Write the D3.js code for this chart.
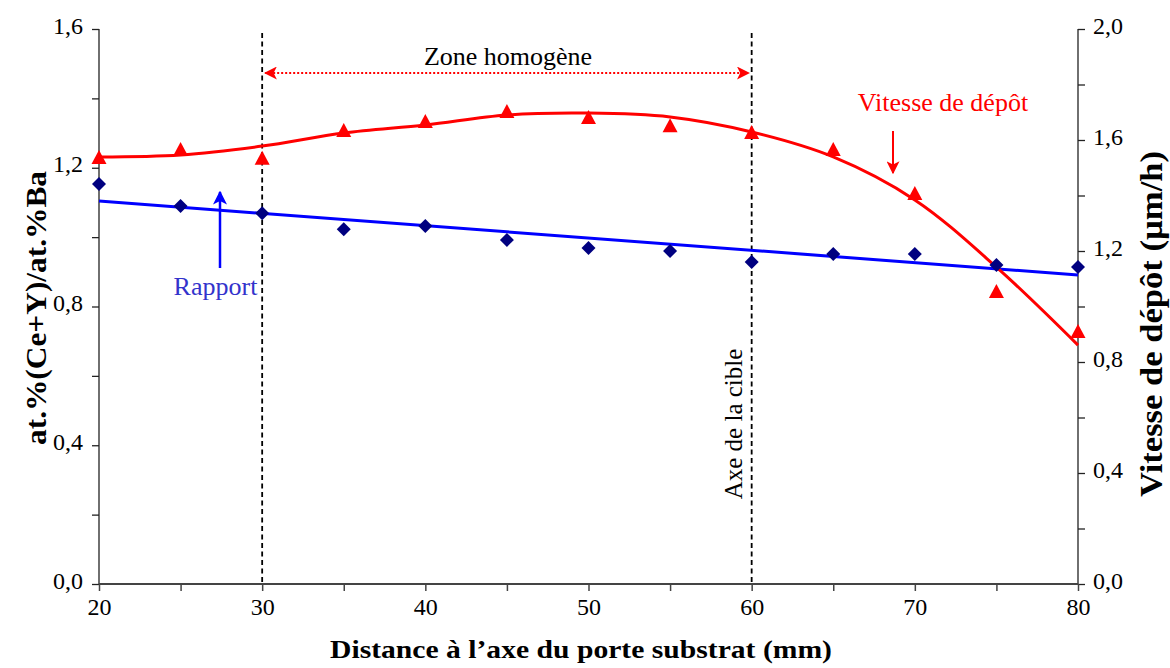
<!DOCTYPE html>
<html><head><meta charset="utf-8">
<script src="https://cdn.jsdelivr.net/npm/d3@7"></script>
<style>
body{margin:0;background:#fff}
svg text{font-family:"Liberation Serif","Times New Roman",serif}
</style></head>
<body><svg id="c" width="1170" height="668"></svg>
<script>
// ---- data ----
const distances = [20,25,30,35,40,45,50,55,60,65,70,75,80];
const rapport = [1.153,1.090,1.069,1.023,1.032,0.992,0.969,0.960,0.928,0.951,0.951,0.920,0.914];
const rapportFit = [[20,1.104],[80,0.891]];
const vitesse = [1.535,1.564,1.532,1.632,1.665,1.701,1.679,1.650,1.625,1.564,1.405,1.052,0.908];
const vitesseFit = [1.539,1.546,1.578,1.625,1.654,1.690,1.697,1.683,1.629,1.539,1.384,1.142,0.861];
const xTicks = [20,25,30,35,40,45,50,55,60,65,70,75,80];
const xTickLabels = [20,30,40,50,60,70,80];
const leftTicks = [0,0.2,0.4,0.6,0.8,1.0,1.2,1.4,1.6];
const leftTickLabels = [0,0.4,0.8,1.2,1.6];
const rightTicks = [0,0.2,0.4,0.6,0.8,1.0,1.2,1.4,1.6,1.8,2.0];
const rightTickLabels = [0,0.4,0.8,1.2,1.6,2.0];
const zoneBounds = [30,60];

const svg = d3.select("#c");
const L=99, R=1078, T=29, B=584;
const x = d3.scaleLinear().domain([20,80]).range([L,R]);
const yL = d3.scaleLinear().domain([0,1.6]).range([B,T]);
const yR = d3.scaleLinear().domain([0,2.0]).range([B,T]);
const fmt = d => d3.format(".1f")(d).replace(".",",");
const FF = "Liberation Serif";

// axes
const axL = d3.axisLeft(yL).tickValues(leftTicks).tickSize(7).tickFormat(d => leftTickLabels.some(v=>Math.abs(v-d)<1e-9)?fmt(d):"");
const gL = svg.append("g").attr("transform",`translate(${L},0)`).call(axL);
const axR = d3.axisRight(yR).tickValues(rightTicks).tickSize(7).tickFormat(d => rightTickLabels.some(v=>Math.abs(v-d)<1e-9)?fmt(d):"");
const gR = svg.append("g").attr("transform",`translate(${R},0)`).call(axR);
const axX = d3.axisBottom(x).tickValues(xTicks).tickSize(7).tickFormat(d => xTickLabels.includes(d)?d:"");
const gX = svg.append("g").attr("transform",`translate(0,${B})`).call(axX);
[gL,gR].forEach(g=>{g.select(".domain").attr("stroke","#222").attr("stroke-width",1.3);
  g.selectAll(".tick line").attr("stroke","#222").attr("stroke-width",1.3);
  g.selectAll("text").attr("font-size",24).attr("fill","#000").attr("y",-3.5).style("font-family",FF);});
gL.selectAll("text").attr("x",-16);
gR.selectAll("text").attr("x",15);
gX.select(".domain").attr("stroke","#444").attr("stroke-width",2.2);
gX.selectAll(".tick line").attr("stroke","#444").attr("stroke-width",1.5);
gX.selectAll("text").attr("font-size",24).attr("fill","#000").attr("y",14).style("font-family",FF);
gL.select(".domain").attr("d",`M0,${T}V${B}`);
gR.select(".domain").attr("d",`M0,${T}V${B}`);
gX.select(".domain").attr("d",`M${L},0H${R}`);

// vertical dashed lines
svg.selectAll(".vline").data(zoneBounds).join("line")
  .attr("x1",d=>x(d)).attr("x2",d=>x(d)).attr("y1",33).attr("y2",B)
  .attr("stroke","#000").attr("stroke-width",1.8).attr("stroke-dasharray","5,3.5");

// defs arrows
const defs = svg.append("defs");
function marker(id,color,w,h){
  defs.append("marker").attr("id",id).attr("viewBox","0 0 10 10").attr("refX",9).attr("refY",5)
   .attr("markerWidth",w).attr("markerHeight",h).attr("markerUnits","userSpaceOnUse").attr("orient","auto-start-reverse")
   .append("path").attr("d","M0,0L10,5L0,10L2.5,5Z").attr("fill",color);
}
marker("ar","#ff0000",13,13);
marker("ab","#0000ff",14,14);

// zone homogene double arrow
svg.append("line").attr("x1",x(zoneBounds[0])+3).attr("x2",x(zoneBounds[1])-3).attr("y1",73).attr("y2",73)
  .attr("stroke","#ff0000").attr("stroke-width",2).attr("stroke-dasharray","2,2")
  .attr("marker-start","url(#ar)").attr("marker-end","url(#ar)");
svg.append("text").attr("x",508).attr("y",65).attr("text-anchor","middle")
  .attr("font-size",26).text("Zone homogène");

// axe de la cible
svg.append("text").attr("transform",`translate(742,424) rotate(-90)`).attr("text-anchor","middle")
  .attr("font-size",25).text("Axe de la cible");

// blue fit line
svg.append("path").datum(rapportFit).attr("fill","none").attr("stroke","#0000ff").attr("stroke-width",3)
  .attr("d",d3.line().x(d=>x(d[0])).y(d=>yL(d[1])));
// red fit curve
svg.append("path").datum(distances.map((d,i)=>[d,vitesseFit[i]])).attr("fill","none").attr("stroke","#ff0000").attr("stroke-width",3)
  .attr("d",d3.line().x(d=>x(d[0])).y(d=>yR(d[1])).curve(d3.curveCatmullRom));

// diamonds
svg.selectAll(".dia").data(distances).join("path")
  .attr("transform",(d,i)=>`translate(${x(d)},${yL(rapport[i])})`)
  .attr("d","M0,-7L7,0L0,7L-7,0Z").attr("fill","#000080");
// triangles
svg.selectAll(".tri").data(distances).join("path")
  .attr("transform",(d,i)=>`translate(${x(d)},${yR(vitesse[i])})`)
  .attr("d","M0,-8L7.5,6L-7.5,6Z").attr("fill","#ff0000");

// annotations
svg.append("text").attr("x",943).attr("y",111).attr("text-anchor","middle").attr("fill","#ff0000")
  .attr("font-size",26).text("Vitesse de dépôt");
svg.append("line").attr("x1",893).attr("x2",893).attr("y1",131).attr("y2",173)
  .attr("stroke","#ff0000").attr("stroke-width",2).attr("marker-end","url(#ar)");
svg.append("text").attr("x",215.5).attr("y",295).attr("text-anchor","middle").attr("fill","#3333cc")
  .attr("font-size",26).text("Rapport");
svg.append("line").attr("x1",220).attr("x2",220).attr("y1",268).attr("y2",192)
  .attr("stroke","#0000ff").attr("stroke-width",2.5).attr("marker-end","url(#ab)");

// axis titles
svg.append("text").attr("transform","translate(46,308) rotate(-90)").attr("text-anchor","middle")
  .attr("font-size",29).attr("font-weight","bold")
  .attr("textLength",274).attr("lengthAdjust","spacingAndGlyphs").text("at.%(Ce+Y)/at.%Ba");
svg.append("text").attr("transform","translate(1162,324) rotate(-90)").attr("text-anchor","middle")
  .attr("font-size",31).attr("font-weight","bold")
  .attr("textLength",346).attr("lengthAdjust","spacingAndGlyphs").text("Vitesse de dépôt (µm/h)");
svg.append("text").attr("x",581).attr("y",658).attr("text-anchor","middle")
  .attr("font-size",26).attr("font-weight","bold")
  .attr("textLength",502).attr("lengthAdjust","spacingAndGlyphs").text("Distance à l’axe du porte substrat (mm)");
</script></body></html>
